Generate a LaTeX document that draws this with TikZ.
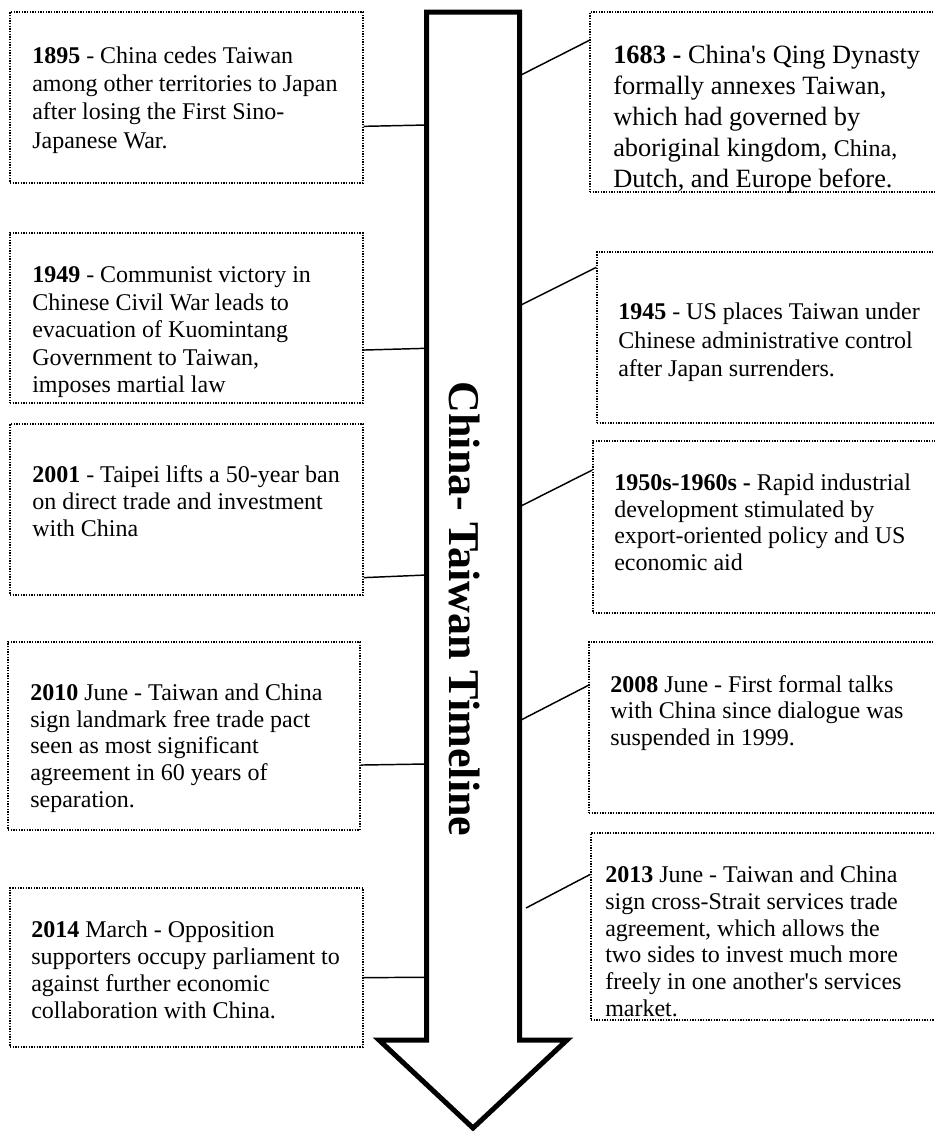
\documentclass[tikz,border=0pt]{standalone}
\usepackage{fontspec}
\newfontfamily\evtfont{Liberation Serif}
\usetikzlibrary{calc,fit}
\tikzset{evbox/.style={draw,densely dotted,line width=1pt,inner sep=0pt},
    evtext/.style={anchor=north west,inner sep=0pt,align=left,
        font=\evtfont\fontsize{18}{#1}\selectfont},
    evtext/.default=20.25pt,
    link/.style={line width=1.1pt}}
\begin{document}
\begin{tikzpicture}[x=0.75pt,y=0.75pt,yscale=-1,xscale=1]
\useasboundingbox (0,0) rectangle (935,1133);

%Shape: Down Arrow
\draw [line width=3.75pt,line join=miter,fill=white] (426.5,12) -- (519.5,12) -- (519.5,1040) -- (567,1040) -- (473,1128) -- (379,1040) -- (426.5,1040) -- cycle ;
% Text Node
\draw (465,609) node [rotate=-90][inner sep=0pt] [font=\evtfont\bfseries\fontsize{33}{40}\selectfont] (title) {China- Taiwan Timeline};

%Shape: Rectangle
\node [evbox,fit={(10,12) (363,183)}] (b1895) {};
\node [evbox,fit={(10,233) (363,403)}] (b1949) {};
\node [evbox,fit={(10,424) (363,595)}] (b2001) {};
\node [evbox,fit={(8,642) (360,830)}] (b2010) {};
\node [evbox,fit={(10,888) (363,1047)}] (b2014) {};
\node [evbox,fit={(590,12) (945,192)}] (b1683) {};
\node [evbox,fit={(597,252) (945,423)}] (b1945) {};
\node [evbox,fit={(593,441) (945,613)}] (b1950) {};
\node [evbox,fit={(589,642) (945,813)}] (b2008) {};
\node [evbox,fit={(591,833) (945,1020)}] (b2013) {};

% Text Node
\draw (32,46.5) node [evtext=21.2pt] (t1895) {\textbf{1895} - China cedes Taiwan\\among other territories to Japan\\after losing the First Sino-\\Japanese War.};
% Text Node
\draw (32,266.5) node [evtext=20.6pt] (t1949) {\textbf{1949} - Communist victory in\\Chinese Civil War leads to\\evacuation of Kuomintang\\Government to Taiwan,\\imposes martial law};
% Text Node
\draw (32,465) node [evtext] (t2001) {\textbf{2001} - Taipei lifts a 50-year ban\\on direct trade and investment\\with China};
% Text Node
\draw (30,683.5) node [evtext=20pt] (t2010) {\textbf{2010} June - Taiwan and China\\sign landmark free trade pact\\seen as most significant\\agreement in 60 years of\\separation.};
% Text Node
\draw (31,921) node [evtext] (t2014) {\textbf{2014} March - Opposition\\supporters occupy parliament to\\against further economic\\collaboration with China.};
% Text Node
\draw (613,44.5) node [evtext,font=\evtfont\fontsize{19.8}{23.4}\selectfont] (t1683) {\textbf{1683 -} China's Qing Dynasty\\formally annexes Taiwan,\\which had governed by\\aboriginal kingdom, {\fontsize{18}{23.4}\selectfont China,}\\Dutch, and Europe before.};
% Text Node
\draw (618,303) node [evtext=21.2pt] (t1945) {\textbf{1945} - US places Taiwan under\\Chinese administrative control\\after Japan surrenders.};
% Text Node
\draw (614,473.5) node [evtext=20pt] (t1950) {\textbf{1950s-1960s -} Rapid industrial\\development stimulated by\\export-oriented policy and US\\economic aid};
% Text Node
\draw (610,675) node [evtext=20pt] (t2008) {\textbf{2008} June - First formal talks\\with China since dialogue was\\suspended in 1999.};
% Text Node
\draw (605,866) node [evtext=20pt] (t2013) {\textbf{2013} June - Taiwan and China\\sign cross-Strait services trade\\agreement, which allows the\\two sides to invest much more\\freely in one another's services\\market.};

%Straight Lines
\coordinate (a1895) at (426.5,125);
\coordinate (a1949) at (426.5,348.3);
\coordinate (a2001) at (426.5,575);
\coordinate (a2010) at (426.5,764);
\coordinate (a2014) at (426.5,977.3);
\draw [link] ($(b1895.north east)+(0,115)$) -- (a1895) ;
\draw [link] ($(b1949.north east)+(0,117.7)$) -- (a1949) ;
\draw [link] ($(b2001.north east)+(0,154.3)$) -- (a2001) ;
\draw [link] ($(b2010.north east)+(0,123.7)$) -- (a2010) ;
\draw [link] ($(b2014.north east)+(0,90.3)$) -- (a2014) ;
%Straight Lines
\coordinate (a1683) at (521,75);
\coordinate (a1945) at (521,305);
\coordinate (a1950) at (521,506);
\coordinate (a2008) at (521,720);
\coordinate (a2013) at (526,908);
\draw [link] (a1683) -- ($(b1683.north west)+(0,29)$) ;
\draw [link] (a1945) -- ($(b1945.north west)+(0,16)$) ;
\draw [link] (a1950) -- ($(b1950.north west)+(0,29.7)$) ;
\draw [link] (a2008) -- ($(b2008.north west)+(0,44)$) ;
\draw [link] (a2013) -- ($(b2013.north west)+(0,42)$) ;

\end{tikzpicture}
\end{document}
